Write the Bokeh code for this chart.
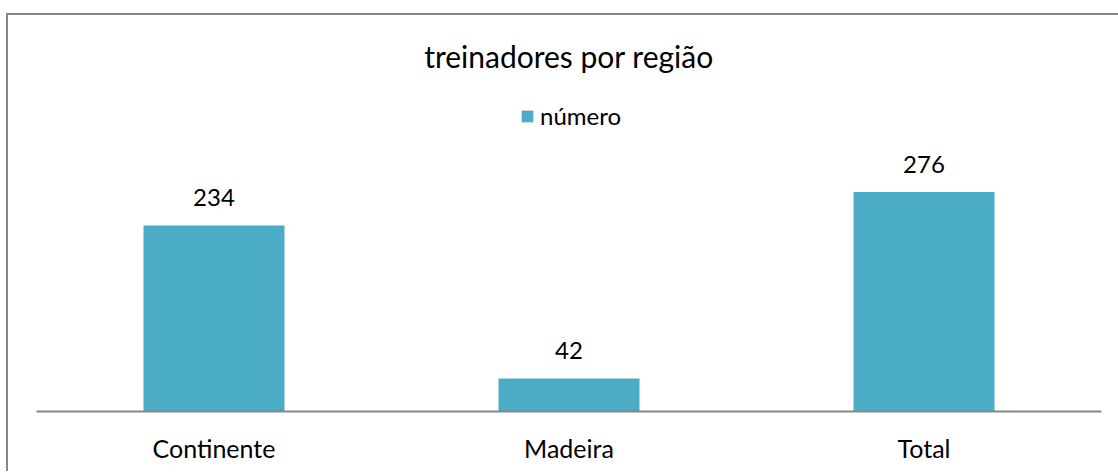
from bokeh.plotting import figure
from bokeh.models import (ColumnDataSource, FactorRange, Range1d, LabelSet, Label,
                          Legend, LegendItem)
from bokeh.core.properties import value
from bokeh.embed import file_html
from bokeh.resources import INLINE

categories = ["Continente", "Madeira", "Total"]
values = [234, 42, 276]
title_text = "treinadores por região"
series_name = "número"

FONT = "Lato"
BAR = "#4BACC6"
GRAY = "#868686"

source = ColumnDataSource(dict(cat=categories, val=values, lbl=[str(v) for v in values]))

p = figure(x_range=FactorRange(*categories, range_padding=0),
           y_range=Range1d(0, 496.8),
           width=1120, height=458, output_backend="svg", toolbar_location=None,
           min_border_left=28, min_border_right=27, min_border_top=0, min_border_bottom=62)
# outer chart border: only its left and top edges fall inside the window
p.margin = (13, 0, 0, 6)
p.styles = {"border-left": f"2px solid {GRAY}", "border-top": f"2px solid {GRAY}"}
p.outline_line_color = None
p.xgrid.grid_line_color = None
p.ygrid.grid_line_color = None
p.yaxis.visible = False
p.title.visible = False

r = p.vbar(x="cat", top="val", width=0.4, source=source, fill_color=BAR,
           line_color="white", line_width=1)

xa = p.xaxis[0]
xa.axis_line_color = GRAY
xa.axis_line_width = 2
xa.major_tick_line_color = None
xa.minor_tick_line_color = None
xa.major_label_text_font = FONT
xa.major_label_text_font_size = "25px"
xa.major_label_text_color = "black"
xa.major_label_standoff = 15

labels = LabelSet(x="cat", y="val", text="lbl", source=source, y_offset=19,
                  text_align="center", text_baseline="alphabetic",
                  text_font=value(FONT), text_font_size=value("24px"),
                  text_color="black")
p.add_layout(labels)

title = Label(x=1.5, y=356, y_units="screen", text=title_text, text_align="center",
              text_baseline="alphabetic", text_font=FONT, text_font_size="30px",
              text_color="black")
p.add_layout(title)

legend = Legend(items=[LegendItem(label=series_name, renderers=[r])],
                location=(483, 281), padding=0, margin=0, border_line_color=None,
                background_fill_alpha=0, glyph_width=16, glyph_height=16,
                label_standoff=5, label_text_font=FONT, label_text_font_size="24px",
                label_text_color="black")
p.add_layout(legend)

open("out.html", "w").write(file_html(p, INLINE))
